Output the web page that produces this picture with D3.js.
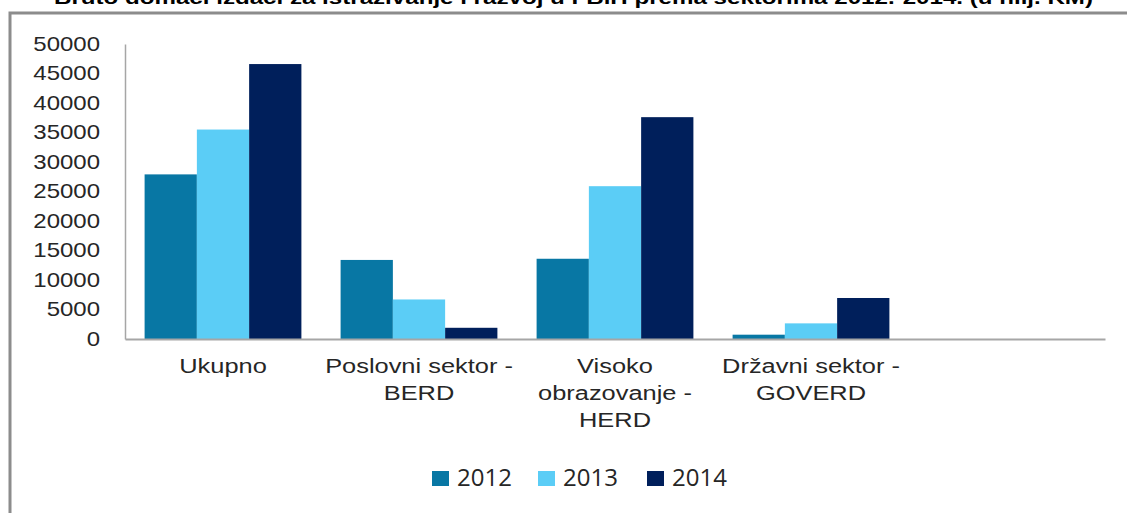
<!DOCTYPE html>
<html>
<head>
<meta charset="utf-8">
<script src="https://cdn.jsdelivr.net/npm/d3@7"></script>
<style>
  html, body { margin: 0; padding: 0; background: #ffffff; }
  svg { display: block; }
</style>
</head>
<body>
<svg id="chart" width="1127" height="513"></svg>
<script>
const title = "Bruto domaći izdaci za istraživanje i razvoj u FBiH prema sektorima 2012.-2014. (u hilj. KM)";
const categories = [
  ["Ukupno"],
  ["Poslovni sektor -", "BERD"],
  ["Visoko", "obrazovanje -", "HERD"],
  ["Državni sektor -", "GOVERD"]
];
const seriesNames = ["2012", "2013", "2014"];
const values2012 = [27900, 13400, 13600, 730];
const values2013 = [35500, 6700, 25900, 2650];
const values2014 = [46600, 1900, 37600, 6950];
const yTicks = [0, 5000, 10000, 15000, 20000, 25000, 30000, 35000, 40000, 45000, 50000];
const colors = ["#0877a4", "#5bcdf6", "#001f5b"];

(function () {
const series = [values2012, values2013, values2014];
const svg = d3.select("#chart");

// outer frame
svg.append("rect")
  .attr("x", 10).attr("y", 13).attr("width", 1300).attr("height", 700)
  .attr("fill", "none").attr("stroke", "#8c8c8c").attr("stroke-width", 3);

// title
svg.append("text")
  .attr("x", 54).attr("y", 4)
  .attr("textLength", 1039).attr("lengthAdjust", "spacingAndGlyphs")
  .attr("font-family", "Liberation Sans, Arial, sans-serif")
  .attr("font-weight", "bold").attr("font-size", 18)
  .attr("fill", "#000")
  .text(title);

const mLeft = 125, mRight = 1105, mTop = 44, mBottom = 339;
const slotKeys = categories.map((c, i) => "c" + i).concat(["empty"]);
const x = d3.scaleBand().domain(slotKeys).range([mLeft, mRight]).paddingInner(0).paddingOuter(0);
const xInner = d3.scaleBand().domain(seriesNames).range([0, x.bandwidth()]).paddingInner(0).paddingOuter(0.375);
const y = d3.scaleLinear().domain([0, 50000]).range([mBottom, mTop]);

const fontStack = "Liberation Sans, Arial, sans-serif";
const stretch = 1.2;
const labelStretch = 1.27;

// bars
const groups = svg.append("g").selectAll("g")
  .data(categories.map((c, i) => ({ key: "c" + i, vals: series.map(s => s[i]) })))
  .join("g")
  .attr("transform", d => `translate(${x(d.key)},0)`);
groups.selectAll("rect")
  .data(d => d.vals.map((v, j) => ({ v, j })))
  .join("rect")
  .attr("x", d => xInner(seriesNames[d.j]))
  .attr("width", xInner.bandwidth())
  .attr("y", d => y(d.v))
  .attr("height", d => mBottom - y(d.v))
  .attr("fill", d => colors[d.j]);

// y axis
const yAxis = svg.append("g")
  .attr("transform", `translate(${mLeft},0)`)
  .call(d3.axisLeft(y).tickValues(yTicks).tickSize(0).tickPadding(25 / stretch).tickFormat(d3.format("d")));
yAxis.select(".domain").attr("stroke", "#a6a6a6").attr("stroke-width", 1.5);
yAxis.selectAll("text")
  .attr("font-family", fontStack).attr("font-size", 20).attr("fill", "#262626")
  .attr("transform", `scale(${stretch},1)`);

// x axis
const xAxis = svg.append("g")
  .attr("transform", `translate(0,${mBottom})`)
  .call(d3.axisBottom(x).tickSize(0).tickFormat(""));
xAxis.select(".domain").attr("stroke", "#a6a6a6").attr("stroke-width", 2);

// category labels
categories.forEach((lines, i) => {
  const cx = x("c" + i) + x.bandwidth() / 2;
  const t = svg.append("text")
    .attr("transform", `translate(${cx},0) scale(${labelStretch},1)`)
    .attr("text-anchor", "middle")
    .attr("font-family", fontStack).attr("font-size", 20).attr("fill", "#262626");
  lines.forEach((ln, k) => {
    t.append("tspan").attr("x", 0).attr("y", 373 + k * 27).text(ln);
  });
});

// legend
const legendX = [432, 538, 647];
const legend = svg.append("g");
seriesNames.forEach((name, j) => {
  legend.append("rect")
    .attr("x", legendX[j]).attr("y", 471).attr("width", 17).attr("height", 15)
    .attr("fill", colors[j]);
  legend.append("text")
    .attr("x", legendX[j] + 25).attr("y", 486)
    .attr("font-family", "Open Sans, sans-serif").attr("font-size", 24).attr("fill", "#262626")
    .text(name);
});
})();
</script>
</body>
</html>
